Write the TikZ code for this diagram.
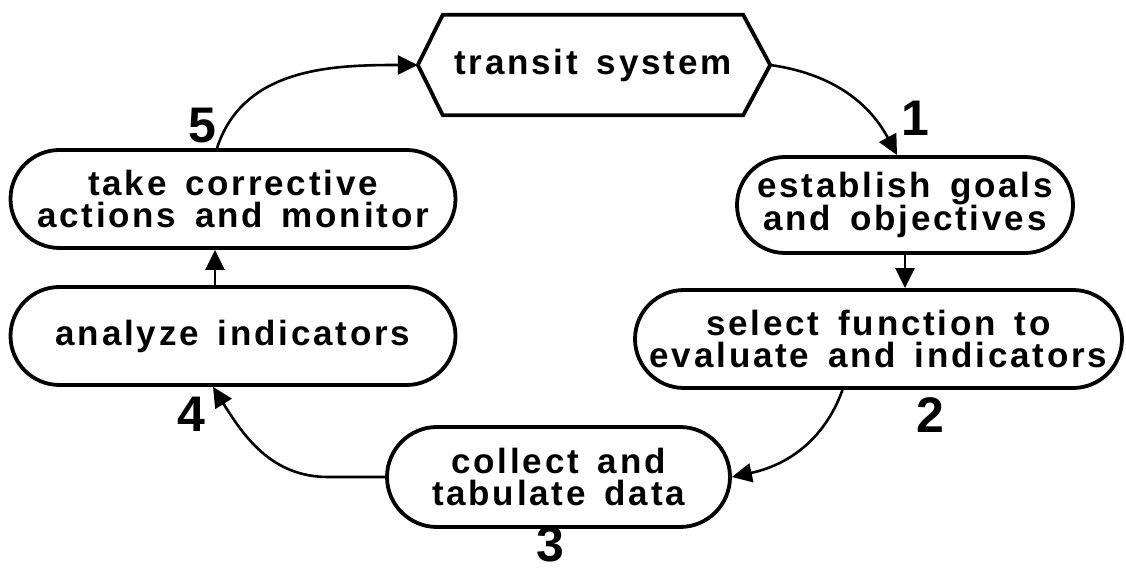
\documentclass[tikz,border=0pt]{standalone}
\usepackage{fontspec}
\setmainfont{Liberation Sans}[LetterSpace=8,WordSpace=1.5]
\usetikzlibrary{shapes.misc,arrows.meta}
\tikzset{
  x=1pt, y=1pt,
  label text/.style={font=\fontsize{35}{32}\selectfont\bfseries, align=center},
  capsule/.style={rounded rectangle, draw, line width=3.8pt, inner sep=0pt,
    label text},
  link/.style={line width=2.6pt, -{Triangle[length=20pt,width=19pt]}},
  stepnum/.style={font=\fontsize{50}{50}\selectfont\bfseries, anchor=base, inner sep=0pt}
}
\begin{document}
\begin{tikzpicture}
\useasboundingbox (0,0) rectangle (1126,570);

% hexagonal start node
\node[label text, minimum width=300pt, minimum height=100pt, inner sep=0pt] (hex) at (593,505) {transit system};
\coordinate (hexL) at ([xshift=-25pt]hex.west);
\coordinate (hexR) at ([xshift=27pt]hex.east);
\draw[line width=3.8pt, line join=miter] (hexL) -- (hex.north west) -- (hex.north east) -- (hexR)
  -- (hex.south east) -- (hex.south west) -- cycle;

% process steps
\node[capsule, minimum width=336pt, minimum height=96pt] (b1) at (905,365)
  {establish goals\\and objectives};
\node[capsule, minimum width=487pt, minimum height=98pt] (b2) at (878.5,231)
  {select function to\\evaluate and indicators};
\node[capsule, minimum width=343pt, minimum height=100pt] (b3) at (558.5,93)
  {collect and\\tabulate data};
\node[capsule, minimum width=445pt, minimum height=98pt] (b4) at (233,234)
  {analyze indicators};
\node[capsule, minimum width=445pt, minimum height=98pt] (b5) at (233,371)
  {take corrective\\actions and monitor};

% connectors
\draw[link] (hexR) to[out=-8,in=118] ([xshift=-8pt]b1.north);
\draw[link] (b1.south) -- (b1.south |- b2.north);
\draw[link] ([xshift=-36pt]b2.south) to[out=250,in=12] (b3.east);
\draw[link] (b3.west) -- ++(-57,0) to[out=180,in=-58] ([xshift=-20pt]b4.south);
\draw[link] ([xshift=-18pt]b4.north) -- ([xshift=-18pt]b5.south);
\draw[link] ([xshift=-16pt]b5.north) to[out=72,in=180] (hexL);

% step numbers
\node[stepnum] (n1) at (915,434) {1};
\node[stepnum] (n2) at (930,137) {2};
\node[stepnum] (n3) at (550,9) {3};
\node[stepnum] (n4) at (191,138) {4};
\node[stepnum] (n5) at (202,427) {5};
\end{tikzpicture}
\end{document}
